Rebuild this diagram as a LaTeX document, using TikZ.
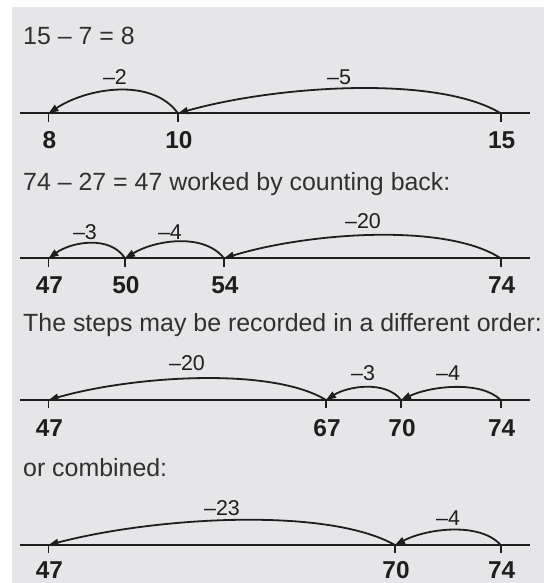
\documentclass[tikz,border=0pt]{standalone}
\usepackage{fontspec}
\setmainfont{Liberation Sans}
\usetikzlibrary{arrows.meta}
\definecolor{bg}{HTML}{E6E6E8}
\definecolor{ink}{HTML}{1E1E1E}
\definecolor{txt}{HTML}{303030}
\newcommand\hop[6]{\draw[hopline] (#1) .. controls +(-#3,-#4) and +(#5,-#6) .. (#2);}
\begin{document}
\begin{tikzpicture}[x=1bp,y=-1bp,
  axis/.style={draw=ink,line width=2bp},
  tickmark/.style={draw=ink,line width=1.8bp},
  hopline/.style={draw=ink,line width=1.8bp,-{Triangle[length=10bp,width=7bp]}},
  num/.style={font=\fontsize{24.5}{24.5}\selectfont\bfseries,text=ink,inner sep=0,anchor=base},
  steplbl/.style={font=\fontsize{21.5}{21.5}\selectfont,text=ink,inner sep=0,anchor=base},
  title/.style={font=\fontsize{25}{25}\selectfont,text=txt,inner sep=0,anchor=base west}]
\fill[white] (0,0) rectangle (544,583);
\fill[bg] (11.5,7.3) rectangle (544,583);
\useasboundingbox (0,0) rectangle (544,583);

% ---------- row 1 ----------
\node[title] (t1) at (23,45) {15 – 7 = 8};
\coordinate (l1a) at (20,113.3); \coordinate (l1b) at (529.5,113.3);
\draw[axis] (l1a) -- (l1b);
\foreach \n/\x in {8/48.5,10/178,15/500.7}{
  \coordinate (r1\n) at (\x,113.3);
  \draw[tickmark] (r1\n) -- ++(0,8.4);
  \node[num] (n1\n) at (\x+1,148.3) {\n};
}
\hop{r115}{r110}{64}{38.8}{97}{27.5}
\hop{r110}{r18}{26}{36}{39}{25.6}
\node[steplbl] (s1a) at (115,84.2) {–2};
\node[steplbl] (s1b) at (339,84.2) {–5};

% ---------- row 2 ----------
\node[title] (t2) at (23,190) {74 – 27 = 47 worked by counting back:};
\coordinate (l2a) at (20,258.3); \coordinate (l2b) at (529.5,258.3);
\draw[axis] (l2a) -- (l2b);
\foreach \n/\x in {47/48.5,50/125,54/224,74/500.7}{
  \coordinate (r2\n) at (\x,258.3);
  \draw[tickmark] (r2\n) -- ++(0,8.4);
  \node[num] (n2\n) at (\x+1,293) {\n};
}
\hop{r274}{r254}{55}{36}{83}{25.6}
\hop{r254}{r250}{20}{25.7}{30}{18.3}
\hop{r250}{r247}{15}{23.3}{23}{16.5}
\node[steplbl] (s2a) at (85,239.2) {–3};
\node[steplbl] (s2b) at (170,239.2) {–4};
\node[steplbl] (s2c) at (363,228) {–20};

% ---------- row 3 ----------
\node[title] (t3) at (23,331.7) {The steps may be recorded in a different order:};
\coordinate (l3a) at (20,400); \coordinate (l3b) at (529.5,400);
\draw[axis] (l3a) -- (l3b);
\foreach \n/\x in {47/48.5,67/326,70/401,74/500.7}{
  \coordinate (r3\n) at (\x,400);
  \draw[tickmark] (r3\n) -- ++(0,8.4);
  \node[num] (n3\n) at (\x+1,436.7) {\n};
}
\hop{r374}{r370}{20}{19.7}{30}{14}
\hop{r370}{r367}{15}{19.7}{22}{14}
\hop{r367}{r347}{55}{33.6}{83}{23.9}
\node[steplbl] (s3a) at (187,370.8) {–20};
\node[steplbl] (s3b) at (363,380.8) {–3};
\node[steplbl] (s3c) at (448,380.8) {–4};

% ---------- row 4 ----------
\node[title] (t4) at (23,476.7) {or combined:};
\coordinate (l4a) at (20,545); \coordinate (l4b) at (529.5,545);
\draw[axis] (l4a) -- (l4b);
\foreach \n/\x in {47/48.5,70/395,74/500.7}{
  \coordinate (r4\n) at (\x,545);
  \draw[tickmark] (r4\n) -- ++(0,8.4);
  \node[num] (n4\n) at (\x+1,578.3) {\n};
}
\hop{r474}{r470}{21}{23.3}{32}{16.5}
\hop{r470}{r447}{69}{38.8}{104}{27.5}
\node[steplbl] (s4a) at (222,515.8) {–23};
\node[steplbl] (s4b) at (448,525.8) {–4};
\end{tikzpicture}
\end{document}
